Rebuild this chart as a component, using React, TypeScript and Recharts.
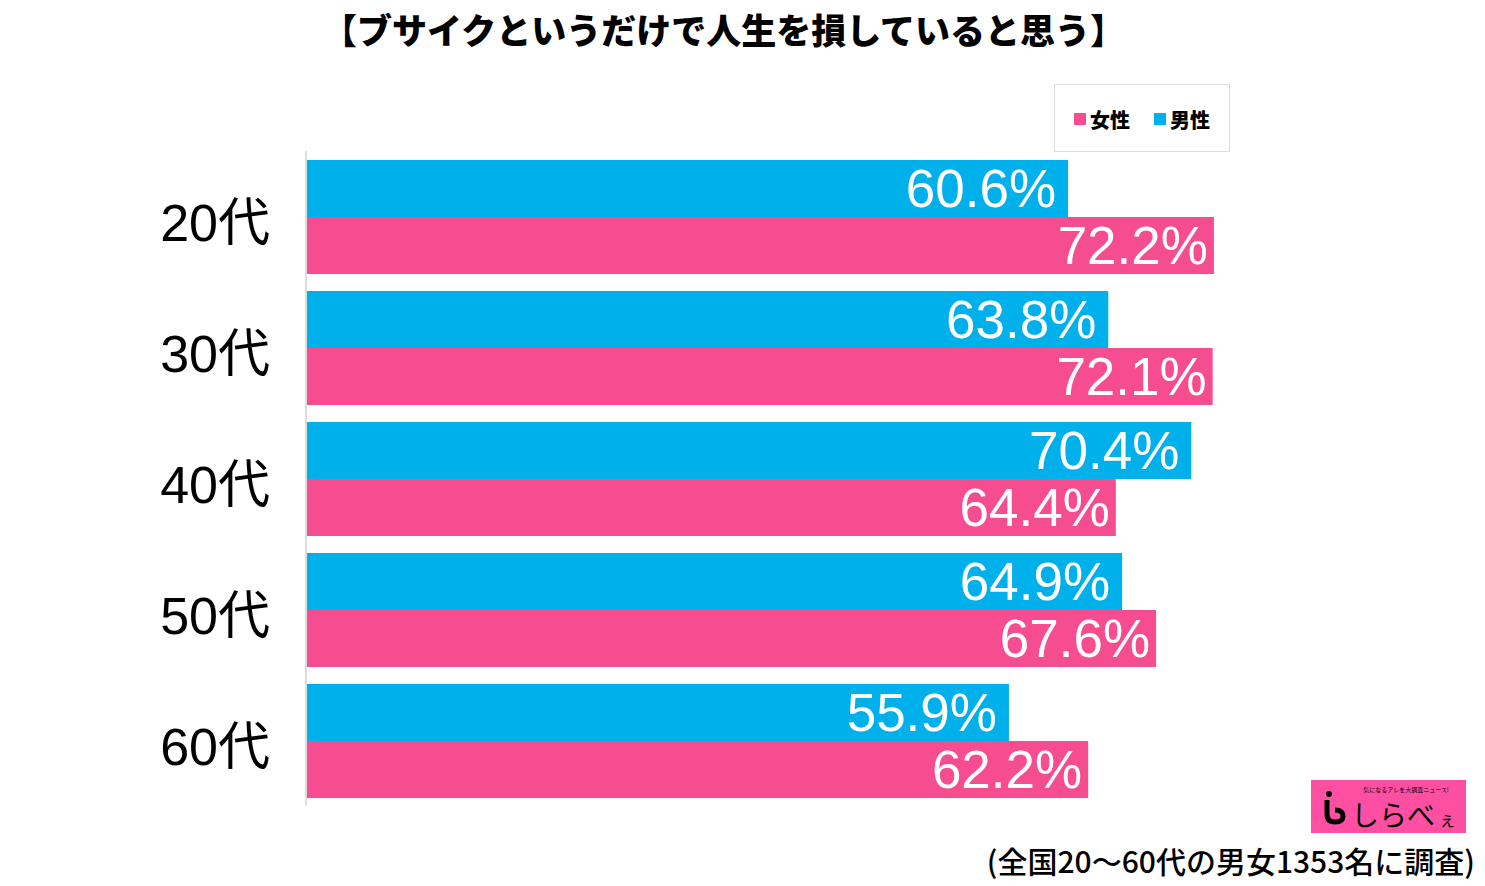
import React from "react";
import { BarChart, Bar, XAxis, YAxis, LabelList } from "recharts";

const categories = ["20代", "30代", "40代", "50代", "60代"];
const maleValues = [60.6, 63.8, 70.4, 64.9, 55.9];
const femaleValues = [72.2, 72.1, 64.4, 67.6, 62.2];
const seriesNames = { female: "女性", male: "男性" };
const title = "【ブサイクというだけで人生を損していると思う】";
const footnote = "(全国20〜60代の男女1353名に調査)";

const data = categories.map((name, i) => ({
  name,
  male: maleValues[i],
  female: femaleValues[i],
}));

const BLUE = "#00b0ea";
const PINK = "#f64c90";
const FONT = "'Liberation Sans', 'Noto Sans CJK JP', sans-serif";
const JP = "'Noto Sans CJK JP', sans-serif";

const fmt = (v: any) => `${Number(v).toFixed(1)}%`;

export default function App() {
  return (
    <div
      style={{
        position: "fixed",
        left: 0,
        top: 0,
        width: 1485,
        height: 886,
        background: "#fff",
        overflow: "hidden",
      }}
    >
      <svg
        width={1485}
        height={60}
        style={{ position: "absolute", left: 0, top: 0 }}
      >
        <text
          x={322}
          y={44}
          fontSize={35}
          fontWeight={900}
          fontFamily={JP}
          fill="#000"
          textLength={803}
          lengthAdjust="spacingAndGlyphs"
        >
          {title}
        </text>
      </svg>

      <BarChart
        width={1485}
        height={886}
        data={data}
        layout="vertical"
        margin={{ top: 151, right: 173, bottom: 80, left: 0 }}
        barCategoryGap={9}
        barGap={0}
      >
        <XAxis type="number" hide domain={[0, 80]} />
        <YAxis
          type="category"
          dataKey="name"
          width={306}
          axisLine={{ stroke: "#dddddd", strokeWidth: 2 }}
          tickLine={false}
          tickSize={0}
          tickMargin={36}
          tick={{ fontSize: 52, fill: "#000", fontFamily: FONT, dy: 6 }}
        />
        <Bar dataKey="male" fill={BLUE} isAnimationActive={false}>
          <LabelList
            dataKey="male"
            position="insideRight"
            offset={12}
            formatter={fmt}
            fill="#fff"
            fontSize={53}
            fontFamily={FONT}
          />
        </Bar>
        <Bar dataKey="female" fill={PINK} isAnimationActive={false}>
          <LabelList
            dataKey="female"
            position="insideRight"
            offset={6}
            formatter={fmt}
            fill="#fff"
            fontSize={53}
            fontFamily={FONT}
          />
        </Bar>
      </BarChart>

      <div
        style={{
          position: "absolute",
          left: 1054,
          top: 84,
          width: 176,
          height: 68,
          border: "1.5px solid #dcdcdc",
          display: "flex",
          alignItems: "center",
          justifyContent: "center",
          fontFamily: JP,
          fontWeight: 900,
          fontSize: 20,
          color: "#000",
          boxSizing: "border-box",
          paddingTop: 2,
        }}
      >
        <span style={{ display: "inline-block", width: 12, height: 12, background: PINK, marginRight: 4 }} />
        <span>{seriesNames.female}</span>
        <span style={{ display: "inline-block", width: 12, height: 12, background: BLUE, marginLeft: 24, marginRight: 4 }} />
        <span>{seriesNames.male}</span>
      </div>

      <div
        style={{
          position: "absolute",
          left: 1311,
          top: 780,
          width: 155,
          height: 53,
          background: "#ff4fa3",
        }}
      >
        <svg width={155} height={53}>
          <text x={95} y={12} fontSize={6} fontFamily={JP} fill="#000" textAnchor="middle">
            気になるアレを大調査ニュース!
          </text>
          <circle cx={18} cy={14} r={3} fill="#000" />
          <path d="M16 20 L16 34 Q16 42 24 42 Q32 42 32 36 Q32 30 24 30" stroke="#000" strokeWidth={5} fill="none" />
          <text x={40} y={46} fontSize={28} fontFamily={JP} fill="#000">
            しらべ
          </text>
          <text x={128} y={46} fontSize={17} fontFamily={JP} fill="#000">
            ぇ
          </text>
        </svg>
      </div>

      <div
        style={{
          position: "absolute",
          right: 10,
          top: 840,
          textAlign: "right",
          fontFamily: JP,
          fontSize: 30,
          fontWeight: 500,
          color: "#000",
          whiteSpace: "nowrap",
          lineHeight: "40px",
        }}
      >
        {footnote}
      </div>
    </div>
  );
}
